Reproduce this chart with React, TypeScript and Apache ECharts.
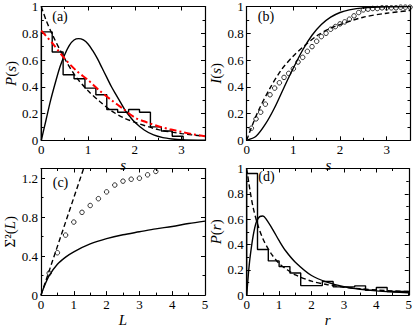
import React, { useEffect, useRef } from 'react';
import * as echarts from 'echarts';

const FONT = '"Liberation Serif", "Times New Roman", serif';

// ---------- Panel (a): P(s) ----------
const aBinWidth = 0.2333;
const aHist = [0.81, 0.66, 0.49, 0.46, 0.39, 0.34, 0.23, 0.21, 0.23, 0.21, 0.10, 0.07, 0.03];
const aSolid: number[][] = [[0, 0], [0.1, 0.15], [0.2, 0.30], [0.3, 0.43], [0.4, 0.55], [0.5, 0.64], [0.6, 0.71], [0.7, 0.75], [0.8, 0.76], [0.9, 0.75], [1.0, 0.72], [1.1, 0.67], [1.2, 0.61], [1.3, 0.54], [1.4, 0.47], [1.5, 0.40], [1.6, 0.34], [1.7, 0.28], [1.8, 0.22], [1.9, 0.175], [2.0, 0.135], [2.2, 0.077], [2.4, 0.04], [2.6, 0.02], [2.8, 0.01], [3.0, 0.004], [3.5, 0]];
const aDashed: number[][] = [[0, 1.0], [0.1, 0.9], [0.25, 0.78], [0.5, 0.61], [0.75, 0.47], [1.0, 0.37], [1.25, 0.29], [1.5, 0.22], [1.75, 0.17], [2.0, 0.135], [2.5, 0.08], [3.0, 0.05], [3.5, 0.03]];
const aRed: number[][] = [[0, 0.82], [0.25, 0.72], [0.5, 0.61], [0.75, 0.52], [1.0, 0.45], [1.25, 0.37], [1.5, 0.30], [1.75, 0.235], [2.0, 0.17], [2.25, 0.135], [2.5, 0.105], [2.75, 0.083], [3.0, 0.063], [3.25, 0.045], [3.5, 0.03]];

// ---------- Panel (b): I(s) ----------
const bSolid: number[][] = [[0, 0], [0.2, 0.03], [0.4, 0.12], [0.6, 0.245], [0.8, 0.395], [1.0, 0.54], [1.2, 0.675], [1.4, 0.785], [1.6, 0.865], [1.8, 0.92], [2.0, 0.955], [2.2, 0.975], [2.5, 0.99], [3.0, 0.998], [3.5, 1.0]];
const bDashed: number[][] = [[0, 0], [0.1, 0.095], [0.25, 0.22], [0.5, 0.39], [0.75, 0.53], [1.0, 0.63], [1.25, 0.71], [1.5, 0.78], [1.75, 0.83], [2.0, 0.865], [2.5, 0.92], [3.0, 0.95], [3.5, 0.97]];
const bCircleS = [0.1, 0.2, 0.3, 0.4, 0.5, 0.6, 0.7, 0.8, 0.9, 1.0, 1.1, 1.2, 1.3, 1.4, 1.5, 1.6, 1.7, 1.8, 1.9, 2.0, 2.1, 2.2, 2.3, 2.4, 2.5, 2.6, 2.7, 2.8, 2.9, 3.0, 3.1, 3.2, 3.3, 3.4, 3.5];
const bCircleI = [0.09, 0.16, 0.21, 0.27, 0.34, 0.39, 0.43, 0.47, 0.50, 0.535, 0.585, 0.62, 0.665, 0.70, 0.74, 0.775, 0.80, 0.83, 0.85, 0.87, 0.885, 0.905, 0.93, 0.955, 0.975, 0.98, 0.985, 0.985, 0.99, 0.99, 0.99, 0.99, 0.995, 0.995, 0.995];

// ---------- Panel (c): Sigma^2(L) ----------
const cDashed: number[][] = [[0, 0], [1.3, 1.3]];
const cSolid: number[][] = [[0, 0], [0.1, 0.09], [0.25, 0.2], [0.5, 0.316], [0.75, 0.39], [1.0, 0.445], [1.5, 0.525], [2.0, 0.58], [2.5, 0.62], [3.0, 0.65], [3.5, 0.68], [4.0, 0.705], [4.5, 0.735], [5.0, 0.76]];
const cCircleL = [0.25, 0.5, 0.75, 1.0, 1.25, 1.5, 1.75, 2.0, 2.25, 2.5, 2.75, 3.0, 3.25, 3.5];
const cCircleV = [0.226, 0.435, 0.616, 0.75, 0.85, 0.92, 0.99, 1.06, 1.13, 1.17, 1.19, 1.2, 1.235, 1.27];

// ---------- Panel (d): P(r) ----------
const dBinWidth = 1 / 3;
const dHist = [0.96, 0.36, 0.27, 0.225, 0.175, 0.075, 0.075, 0.107, 0.065, 0.065, 0.073, 0.037, 0.06, 0.028, 0.028];
const dSolid: number[][] = [[0, 0], [0.05, 0.16], [0.1, 0.29], [0.2, 0.47], [0.3, 0.58], [0.4, 0.62], [0.5, 0.625], [0.6, 0.60], [0.8, 0.52], [1.0, 0.43], [1.2, 0.35], [1.5, 0.26], [2.0, 0.155], [2.5, 0.10], [3.0, 0.066], [3.5, 0.046], [4.0, 0.033], [4.5, 0.025], [5.0, 0.019]];
const dDashed: number[][] = [[0, 1.0], [0.1, 0.83], [0.2, 0.69], [0.33, 0.565], [0.5, 0.445], [0.75, 0.33], [1.0, 0.25], [1.25, 0.2], [1.5, 0.16], [2.0, 0.11], [2.5, 0.082], [3.0, 0.0625], [3.5, 0.05], [4.0, 0.04], [4.5, 0.033], [5.0, 0.028]];

const panelLabels = ['(a)', '(b)', '(c)', '(d)'];

function histPoints(width: number, h: number[]) {
  const pts: number[][] = [[0, 0]];
  h.forEach((v, i) => pts.push([+(i * width).toFixed(4), v]));
  const end = +(h.length * width).toFixed(4);
  pts.push([end, h[h.length - 1]]);
  pts.push([end, 0]);
  return pts;
}

const tickText = { fontFamily: FONT, fontSize: 13, color: '#000' };
const rich = {
  i: { fontFamily: FONT, fontSize: 15, fontStyle: 'italic', color: '#000' },
  n: { fontFamily: FONT, fontSize: 15, color: '#000' },
};

function makeX(grid: number, max: number, pos: 'bottom' | 'top', name: string, showMax: boolean) {
  const main = pos === 'bottom';
  return {
    type: 'value', gridIndex: grid, position: pos, min: 0, max, interval: 1,
    axisLine: { show: true, onZero: false, lineStyle: { color: '#000', width: 1.2 } },
    axisTick: { show: true, inside: true, length: 4, lineStyle: { color: '#000', width: 1 } },
    minorTick: { show: true, splitNumber: 2, length: 2.5, lineStyle: { color: '#000', width: 1 } },
    splitLine: { show: false },
    axisLabel: { show: main, margin: 3, showMaxLabel: showMax, ...tickText },
    name: main ? name : '', nameLocation: 'middle', nameGap: 11,
    nameTextStyle: { fontFamily: FONT, fontSize: 15, fontStyle: 'italic', color: '#000' },
  };
}

function makeY(grid: number, max: number, interval: number, pos: 'left' | 'right', name: string, showMax: boolean) {
  const main = pos === 'left';
  return {
    type: 'value', gridIndex: grid, position: pos, min: 0, max, interval,
    axisLine: { show: true, onZero: false, lineStyle: { color: '#000', width: 1.2 } },
    axisTick: { show: true, inside: true, length: 4, lineStyle: { color: '#000', width: 1 } },
    minorTick: { show: true, splitNumber: 2, length: 2.5, lineStyle: { color: '#000', width: 1 } },
    splitLine: { show: false },
    axisLabel: { show: main, margin: 3, showMaxLabel: showMax, ...tickText },
    name: main ? name : '', nameLocation: 'middle', nameGap: 22,
    nameTextStyle: { fontFamily: FONT, fontSize: 15, color: '#000', rich },
  };
}

const solid = { color: '#000', width: 1.4, type: 'solid' };
const dashed = { color: '#000', width: 1.4, type: [5, 3] };

function line(panel: number, data: number[][], lineStyle: any, extra: any = {}) {
  return {
    type: 'line', xAxisIndex: panel * 2, yAxisIndex: panel * 2, data,
    showSymbol: false, symbol: 'none', lineStyle, smooth: 0.3, z: 3, ...extra,
  };
}

function circles(panel: number, xs: number[], ys: number[]) {
  return {
    type: 'scatter', xAxisIndex: panel * 2, yAxisIndex: panel * 2,
    data: xs.map((x, i) => [x, ys[i]]),
    symbol: 'circle', symbolSize: 4.5,
    itemStyle: { color: 'rgba(0,0,0,0)', borderColor: '#000', borderWidth: 1 }, z: 4,
  };
}

const labelPos = [[60, 16.5], [266, 16.5], [60.5, 182], [266.5, 176]];

export default function App() {
  const ref = useRef<HTMLDivElement>(null);
  useEffect(() => {
    if (!ref.current) return;
    const chart = echarts.init(ref.current, undefined, { renderer: 'svg' });
    const option = {
      animation: false,
      backgroundColor: '#fff',
      grid: [
        { left: 41.3, top: 5, width: 163.7, height: 135.3 },
        { left: 246.7, top: 5, width: 163.3, height: 135.3 },
        { left: 41, top: 168.5, width: 164, height: 134.8 },
        { left: 246.7, top: 168.5, width: 163.3, height: 134.8 },
      ],
      xAxis: [
        makeX(0, 3.5, 'bottom', 's', false), makeX(0, 3.5, 'top', '', false),
        makeX(1, 3.5, 'bottom', 's', false), makeX(1, 3.5, 'top', '', false),
        makeX(2, 5, 'bottom', 'L', true), makeX(2, 5, 'top', '', true),
        makeX(3, 5, 'bottom', 'r', true), makeX(3, 5, 'top', '', true),
      ],
      yAxis: [
        makeY(0, 1, 0.2, 'left', '{i|P}({i|s})', true), makeY(0, 1, 0.2, 'right', '', true),
        makeY(1, 1, 0.2, 'left', '{i|I}({i|s})', true), makeY(1, 1, 0.2, 'right', '', true),
        makeY(2, 1.3, 0.4, 'left', '{n|Σ²}({i|L})', false), makeY(2, 1.3, 0.4, 'right', '', false),
        makeY(3, 1, 0.2, 'left', '{i|P}({i|r})', true), makeY(3, 1, 0.2, 'right', '', true),
      ],
      graphic: panelLabels.map((t, i) => ({
        type: 'text', x: labelPos[i][0], y: labelPos[i][1], z: 10,
        style: { text: t, align: 'center', verticalAlign: 'middle', font: `14px ${FONT}`, fill: '#000' },
      })),
      series: [
        line(0, histPoints(aBinWidth, aHist), solid, { step: 'end', smooth: false }),
        line(0, aSolid, solid),
        line(0, aDashed, dashed),
        line(0, aRed, { color: '#ff0000', width: 2, type: [7, 3, 2, 3] }, { z: 5 }),
        line(1, bSolid, solid),
        line(1, bDashed, dashed),
        circles(1, bCircleS, bCircleI),
        line(2, cDashed, dashed, { smooth: false }),
        line(2, cSolid, solid),
        circles(2, cCircleL, cCircleV),
        line(3, histPoints(dBinWidth, dHist), solid, { step: 'end', smooth: false }),
        line(3, dSolid, solid),
        line(3, dDashed, dashed),
      ],
    };
    chart.setOption(option as any);
    return () => chart.dispose();
  }, []);
  return (
    <div
      ref={ref}
      style={{ position: 'absolute', left: 0, top: 0, width: 415, height: 328, background: '#fff' }}
    />
  );
}
